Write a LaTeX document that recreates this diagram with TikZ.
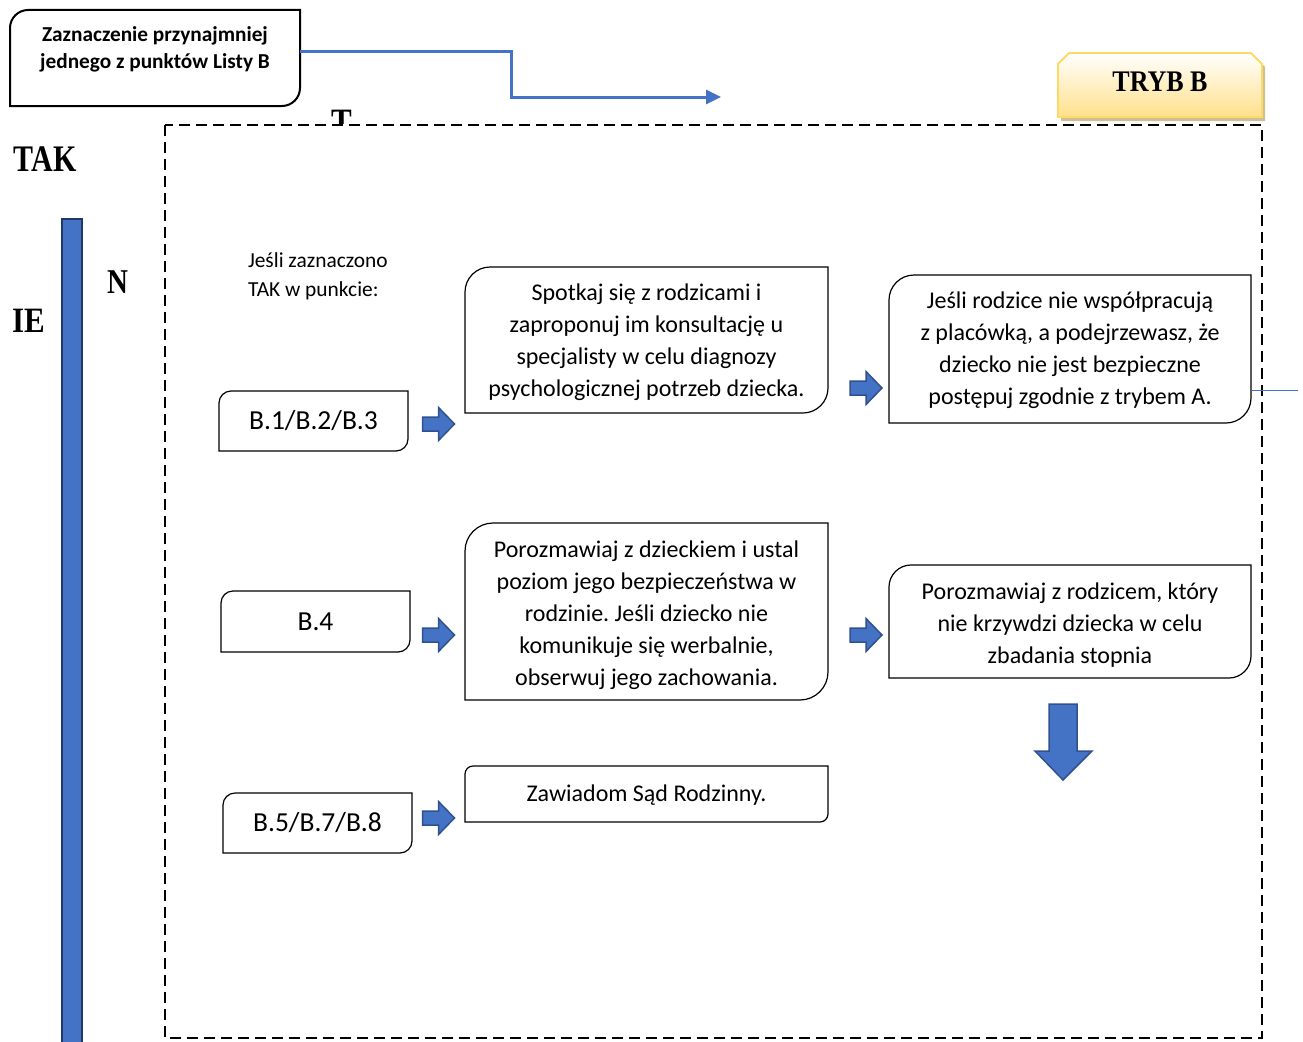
\documentclass[tikz,border=0pt]{standalone}
\usepackage{fontspec}
\setmainfont{Carlito}
\newfontfamily\tnr{Liberation Serif}
\usepackage{graphicx}
\usetikzlibrary{arrows.meta,calc}
\frenchspacing
\definecolor{accblue}{HTML}{4472C4}
\definecolor{darkblue}{HTML}{2F528F}
\definecolor{barborder}{HTML}{1F3864}
\definecolor{goldline}{HTML}{FFD966}
\definecolor{goldfill}{HTML}{FFE08A}
\definecolor{shadowc}{HTML}{CDBF97}
\tikzset{
  boxline/.style={draw=black, line width=1.2pt},
  startline/.style={draw=black, line width=2pt},
  plain/.style={inner sep=0pt, outer sep=0pt, align=center},
  txt/.style={plain, font=\fontsize{24}{32}\selectfont},
  codetxt/.style={plain, font=\fontsize{27.5}{30}\selectfont},
  sertxt/.style={inner sep=0pt, outer sep=0pt, font=\tnr\bfseries\fontsize{#1}{#1}\selectfont},
  blockarrow/.style={fill=accblue, draw=darkblue, line width=1.5pt, line join=miter},
  conn/.style={draw=accblue, line width=3pt},
  frame/.style={draw=black, line width=1.8pt, dash pattern=on 11pt off 6pt}
}
% outline with rounded top-left and bottom-right corners around a named node
\newcommand\rdbox[3]{%
  \draw[#1] (#2.south west) -- ([yshift=-#3pt]#2.north west)
    .. controls ([yshift=-0.45*#3pt]#2.north west) and ([xshift=0.45*#3pt]#2.north west) .. ([xshift=#3pt]#2.north west)
    -- (#2.north east) -- ([yshift=#3pt]#2.south east)
    .. controls ([yshift=0.45*#3pt]#2.south east) and ([xshift=-0.45*#3pt]#2.south east) .. ([xshift=-#3pt]#2.south east)
    -- cycle;}
\newcommand\rarrow[2]{%
  \draw[blockarrow] (#1-16,#2-7) -- (#1,#2-7) -- (#1,#2-16.5) -- (#1+16,#2) -- (#1,#2+16.5) -- (#1,#2+7) -- (#1-16,#2+7) -- cycle;}
\begin{document}
\begin{tikzpicture}[x=1pt,y=-1pt]
\useasboundingbox (0,0) rectangle (1303,1041);

% dashed frame
\draw[frame] (165,125) rectangle (1262,1038);

% left blue bar
\draw[fill=accblue, draw=barborder, line width=1.8pt] (62,219) rectangle (82,1048);

% start box
\node[plain, minimum width=290pt, minimum height=96pt] (start) at (155,58) {};
\rdbox{startline}{start}{18}
\node[plain, font=\bfseries\fontsize{21.3}{27}\selectfont] (starttext) at (155,49.5)
  {Zaznaczenie przynajmniej\\jednego z punktów Listy B};

% connector from start box
\coordinate (tend) at (721,97);
\draw[conn, -{Triangle[length=15pt,width=14pt]}] ([yshift=6pt]start.east) -- (511,52) |- (tend);

% TRYB B tab
\fill[shadowc] (1061,121) -- (1061,67) -- (1072,56) -- (1254,56) -- (1265,67) -- (1265,121) -- cycle;
\path[top color=white, bottom color=goldfill, draw=goldline, line width=1.8pt]
  (1058,117) -- (1058,64) -- (1069,53) -- (1251,53) -- (1262,64) -- (1262,117) -- cycle;
\node[sertxt=26] (tryb) at (1160,82) {\scalebox{1}[1.15]{TRYB B}};

% side letters
\node[sertxt=30] (tak) at (45,159) {\scalebox{1}[1.25]{TAK}};
\node[sertxt=29] (nletter) at (117.5,282) {\scalebox{1}[1.2]{N}};
\node[sertxt=31] (ie) at (28.5,321) {\scalebox{1}[1.15]{IE}};
\begin{scope}
  \clip (315,100) rectangle (370,123.5);
  \node[sertxt=31] (tletter) at (342,122) {\scalebox{1}[1.2]{T}};
\end{scope}

% caption
\node[plain, align=left, anchor=west, font=\fontsize{21.4}{29}\selectfont] (caption) at (248,276.5)
  {Jeśli zaznaczono\\TAK w punkcie:};

% code boxes
\node[codetxt, minimum width=189pt, minimum height=60pt] (b123) at (313.5,421) {B.1/B.2/B.3};
\rdbox{boxline}{b123}{12}
\node[codetxt, minimum width=189pt, minimum height=61pt] (b4) at (315.5,621.5) {B.4};
\rdbox{boxline}{b4}{12}
\node[codetxt, minimum width=189pt, minimum height=60pt] (b578) at (317.5,823) {B.5/B.7/B.8};
\rdbox{boxline}{b578}{12}

% action boxes
\node[plain, minimum width=363pt, minimum height=146pt] (meet) at (646.5,340) {};
\node[txt] (meettext) at (646.5,342)
  {Spotkaj się z rodzicami i\\zaproponuj im konsultację u\\specjalisty w celu diagnozy\\psychologicznej potrzeb dziecka.};
\rdbox{boxline}{meet}{25}
\node[plain, minimum width=363pt, minimum height=177pt] (talk) at (646.5,611.5) {};
\node[txt] (talktext) at (646.5,615)
  {Porozmawiaj z dzieckiem i ustal\\poziom jego bezpieczeństwa w\\rodzinie. Jeśli dziecko nie\\komunikuje się werbalnie,\\obserwuj jego zachowania.};
\rdbox{boxline}{talk}{28}
\node[plain, minimum width=363pt, minimum height=56pt] (notify) at (646.5,794) {};
\node[txt] (notifytext) at (646.5,795) {Zawiadom Sąd Rodzinny.};
\rdbox{boxline}{notify}{8}
\node[plain, minimum width=362pt, minimum height=148pt] (ifnot) at (1070,349) {};
\node[txt] (ifnottext) at (1070,350.5)
  {Jeśli rodzice nie współpracują\\z placówką, a podejrzewasz, że\\dziecko nie jest bezpieczne\\postępuj zgodnie z trybem A.};
\rdbox{boxline}{ifnot}{25}
\node[plain, minimum width=362pt, minimum height=113pt] (parent) at (1070,621.5) {};
\node[txt] (parenttext) at (1070,625)
  {Porozmawiaj z rodzicem, który\\nie krzywdzi dziecka w celu\\zbadania stopnia};
\rdbox{boxline}{parent}{22}

% thin blue line leaving the right box
\coordinate (thinend) at (1298,390);
\draw[draw=accblue, line width=1pt] (ifnot.east |- thinend) -- (thinend);

% block arrows
\rarrow{438.5}{424}
\rarrow{866}{388}
\rarrow{438.5}{635}
\rarrow{866}{635}
\rarrow{438.5}{818}
\draw[blockarrow] (1049,704) -- (1077,704) -- (1077,751) -- (1092,751) -- (1063,780) -- (1035,751) -- (1049,751) -- cycle;
\end{tikzpicture}
\end{document}
